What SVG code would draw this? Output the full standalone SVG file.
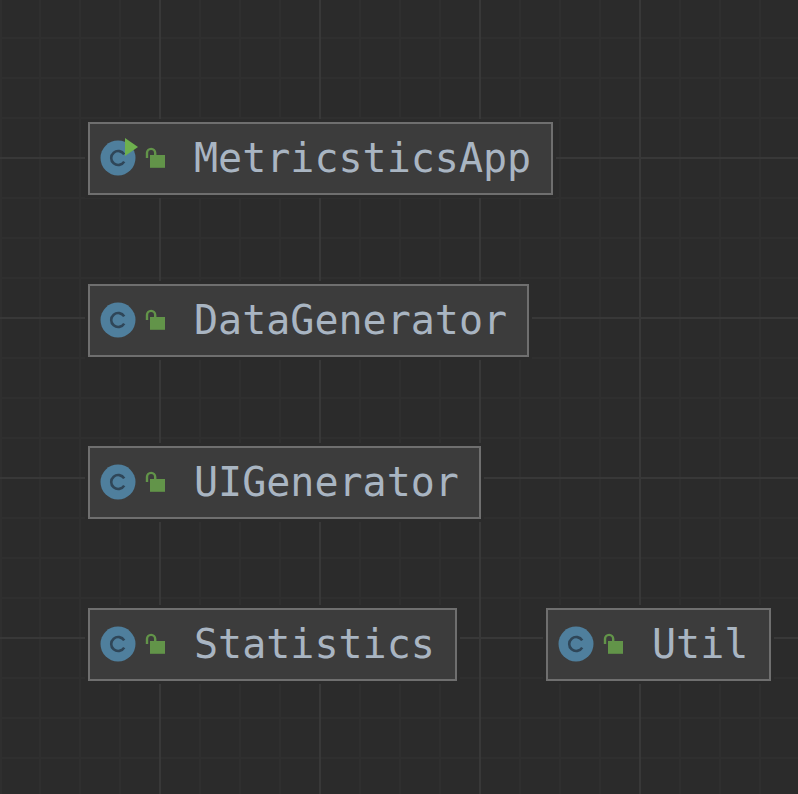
<svg xmlns="http://www.w3.org/2000/svg" width="798" height="794" viewBox="0 0 798 794">
<style>
.minor{stroke:#2f2f2f;stroke-width:2;fill:none}
.major{stroke:#383838;stroke-width:2;fill:none}
.halo{fill:#2b2b2b}
.box{fill:#3c3c3c;stroke:#6f6f6f;stroke-width:2}
.circle{fill:#4f7f9d}
.c{fill:none;stroke:#2f4658;stroke-width:2.6}
.lock{fill:#629449}
.shackle{fill:none;stroke:#629449;stroke-width:2.4}
.run{fill:#6eb04e}
.label{font-family:"DejaVu Sans Mono",monospace;font-size:40px;fill:#a9b5c2}
</style>
<defs>
<g id="icon">
<circle class="circle" cx="0" cy="0" r="17.5"/>
<path class="c" d="M6.2-3.6A7 7 0 1 0 6.2 3.6"/>
<path class="shackle" d="M29 0V-5A4.100 4.100 0 0 1 37.200-5V-2"/>
<rect class="lock" x="32" y="-3" width="15" height="12.800"/>
</g>
</defs>
<rect width="798" height="794" fill="#2b2b2b"/>
<g id="grid">
<path class="minor" d="M1 0V794M40 0V794M80 0V794M120 0V794M200 0V794M240 0V794M280 0V794M360 0V794M400 0V794M440 0V794M520 0V794M560 0V794M600 0V794M680 0V794M720 0V794M760 0V794M0 38H798M0 78H798M0 118H798M0 198H798M0 238H798M0 278H798M0 358H798M0 398H798M0 438H798M0 518H798M0 558H798M0 598H798M0 678H798M0 718H798M0 758H798"/>
<path class="major" d="M160 0V794M320 0V794M480 0V794M640 0V794M0 158H798M0 318H798M0 478H798M0 638H798"/>
</g>
<g id="connectors"></g>
<g id="MetricsticsApp">
<rect class="halo" x="85" y="119" width="471" height="79"/>
<rect class="box" x="89" y="123" width="463" height="71"/>
<use href="#icon" x="118" y="158"/>
<path class="run" d="M125 138L138 147L125 156Z"/>
<text class="label" x="194" y="172">MetricsticsApp</text>
</g>
<g id="DataGenerator">
<rect class="halo" x="85" y="281" width="447" height="79"/>
<rect class="box" x="89" y="285" width="439" height="71"/>
<use href="#icon" x="118" y="320"/>
<text class="label" x="194" y="334">DataGenerator</text>
</g>
<g id="UIGenerator">
<rect class="halo" x="85" y="443" width="399" height="79"/>
<rect class="box" x="89" y="447" width="391" height="71"/>
<use href="#icon" x="118" y="482"/>
<text class="label" x="194" y="496">UIGenerator</text>
</g>
<g id="Statistics">
<rect class="halo" x="85" y="605" width="375" height="79"/>
<rect class="box" x="89" y="609" width="367" height="71"/>
<use href="#icon" x="118" y="644"/>
<text class="label" x="194" y="658">Statistics</text>
</g>
<g id="Util">
<rect class="halo" x="543" y="605" width="231" height="79"/>
<rect class="box" x="547" y="609" width="223" height="71"/>
<use href="#icon" x="576" y="644"/>
<text class="label" x="652" y="658">Util</text>
</g>
</svg>
